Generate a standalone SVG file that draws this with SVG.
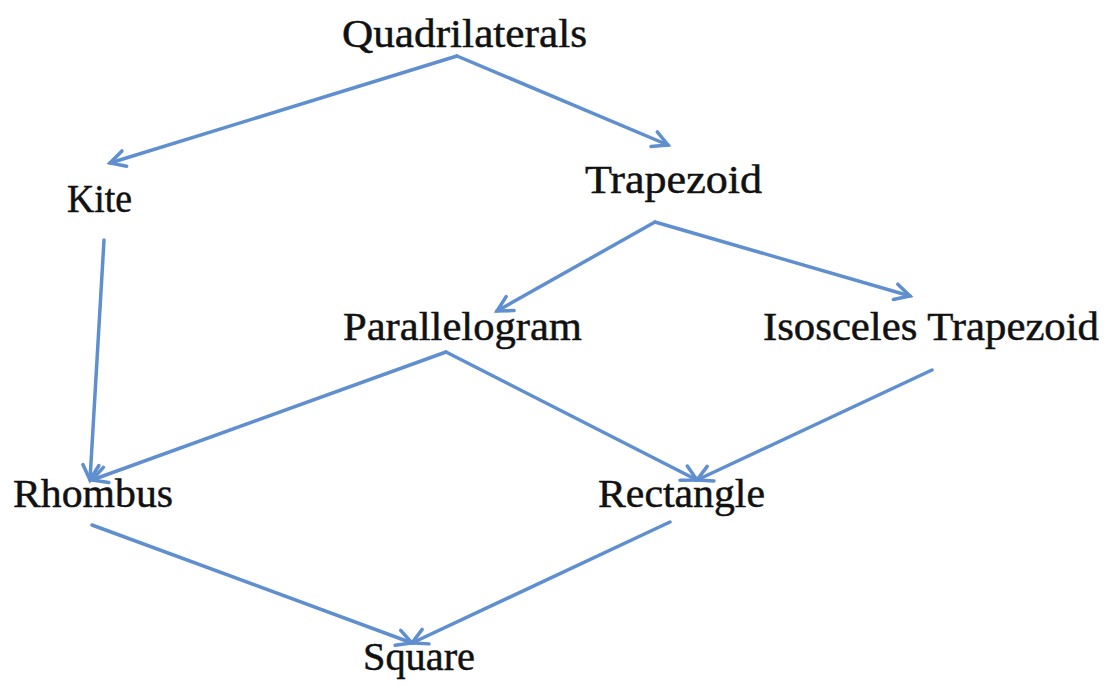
<svg xmlns="http://www.w3.org/2000/svg" width="1112" height="697" viewBox="0 0 1112 697">
  <style>
    .label { font-family: "Liberation Serif", "DejaVu Serif", serif; font-size: 41px; fill: #111; stroke: #111; stroke-width: 0.5; }
    .edge { stroke: #5f8fcf; stroke-width: 3.5; fill: none; stroke-linecap: round; marker-end: url(#head); }
  </style>
  <defs>
    <marker id="head" viewBox="0 0 24 24" refX="20" refY="12" markerWidth="24" markerHeight="24" markerUnits="userSpaceOnUse" orient="auto">
      <path d="M5,4 L20,12 L5,20" fill="none" stroke="#5f8fcf" stroke-width="3.5" stroke-linecap="round" stroke-linejoin="miter"/>
    </marker>
  </defs>
  <rect width="1112" height="697" fill="#fff"/>

  <g id="connectors">
    <line class="edge" x1="457" y1="56" x2="110" y2="163"/>
    <line class="edge" x1="457" y1="56" x2="668" y2="145"/>
    <line class="edge" x1="655" y1="222" x2="497" y2="311"/>
    <line class="edge" x1="655" y1="222" x2="910" y2="296"/>
    <line class="edge" x1="104" y1="240" x2="90" y2="480"/>
    <line class="edge" x1="446" y1="352" x2="92" y2="480"/>
    <line class="edge" x1="446" y1="352" x2="697" y2="480"/>
    <line class="edge" x1="932" y1="370" x2="697" y2="480"/>
    <line class="edge" x1="92" y1="525" x2="412" y2="643"/>
    <line class="edge" x1="670" y1="522" x2="412" y2="643"/>
  </g>

  <g id="quadrilaterals"><text class="label" x="342" y="47" textLength="245" lengthAdjust="spacingAndGlyphs">Quadrilaterals</text></g>
  <g id="kite"><text class="label" x="67" y="212" textLength="65" lengthAdjust="spacingAndGlyphs">Kite</text></g>
  <g id="trapezoid"><text class="label" x="585" y="193" textLength="177" lengthAdjust="spacingAndGlyphs">Trapezoid</text></g>
  <g id="parallelogram"><text class="label" x="343" y="340" textLength="239" lengthAdjust="spacingAndGlyphs">Parallelogram</text></g>
  <g id="isosceles-trapezoid"><text class="label" x="763" y="340" textLength="336" lengthAdjust="spacingAndGlyphs">Isosceles Trapezoid</text></g>
  <g id="rhombus"><text class="label" x="13" y="507" textLength="160" lengthAdjust="spacingAndGlyphs">Rhombus</text></g>
  <g id="rectangle"><text class="label" x="598" y="507" textLength="167" lengthAdjust="spacingAndGlyphs">Rectangle</text></g>
  <g id="square"><text class="label" x="363" y="670" textLength="112" lengthAdjust="spacingAndGlyphs">Square</text></g>
</svg>
